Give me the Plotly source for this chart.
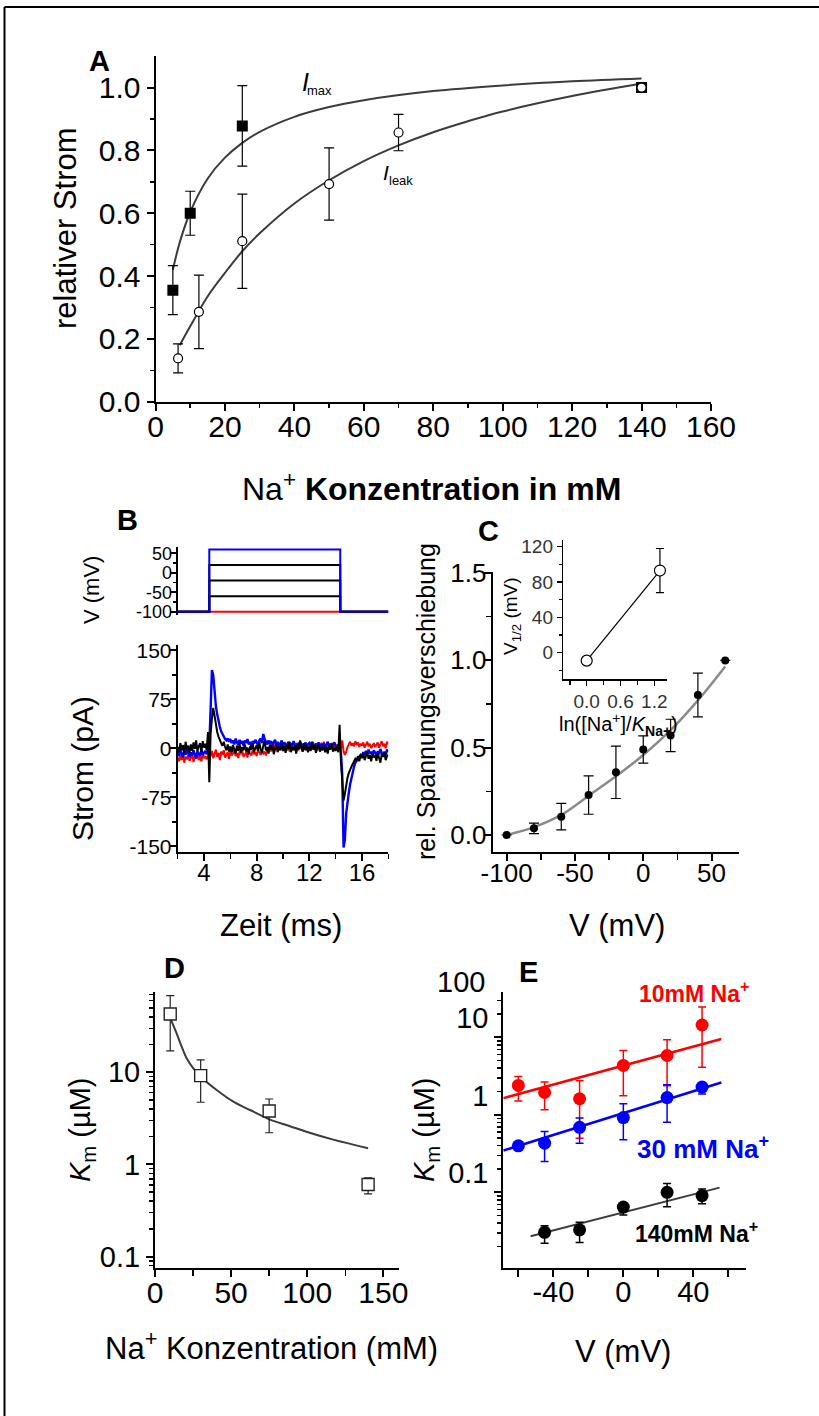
import plotly.graph_objects as go

FONT = "Arial, Liberation Sans, sans-serif"
W, H = 819, 1416


def px(x):
    return x / W


def py(y):
    return 1 - y / H


# ---------------- Panel A: relativer Strom vs Na+ ----------------
a_conc_imax = [5, 10, 25, 140]
a_imax = [0.355, 0.60, 0.878, 1.0]
a_imax_err = [0.078, 0.07, 0.128, 0.0]
a_conc_ileak = [6.5, 12.5, 25, 50, 70, 140]
a_ileak = [0.138, 0.286, 0.511, 0.693, 0.857, 1.0]
a_ileak_err = [0.046, 0.117, 0.15, 0.115, 0.058, 0.0]
a_fit_imax_x = [5, 7, 10, 15, 20, 25, 30, 40, 50, 60, 80, 100, 120, 140]
a_fit_imax_y = [0.42, 0.508, 0.604, 0.71, 0.777, 0.824, 0.859, 0.907, 0.938, 0.96, 0.989, 1.007, 1.02, 1.029]
a_fit_ileak_x = [7, 10, 15, 20, 25, 30, 40, 50, 60, 70, 80, 90, 100, 120, 140]
a_fit_ileak_y = [0.18, 0.24, 0.335, 0.41, 0.479, 0.536, 0.631, 0.705, 0.766, 0.816, 0.858, 0.893, 0.924, 0.973, 1.013]
a_xticks = [0, 20, 40, 60, 80, 100, 120, 140, 160]

# ---------------- Panel B: Spannungsprotokoll + Stromspuren ----------------
b_step_on = 4.4
b_step_off = 14.35
b_levels = [-100, -60, -20, 20, 60]
b_level_colors = ["red", "black", "black", "black", "blue"]
b_t0, b_dt = 2.0, 0.1
b_red = [
    -14, -20, -11, -18, -9, -22, -13, -17, -10, -19,
    -15, -8, -21, -12, -16, -10, -18, -13, -20, -9,
    -15, -12, -17, -11, -6, -12, -4, -15, -8, -2,
    -13, -7, -18, -5, -10, -3, -14, -9, -6, -16,
    -4, -11, -8, -2, -12, -7, -15, -5, -9, -3,
    -13, -10, -6, -14, -4, -8, -11, -3, -9, -6,
    -12, -2, -7, -10, -4, -8, -5, -11, -3, -6,
    2, -5, 4, -3, 6, -1, -6, 3, -2, 5,
    -4, 1, 7, -3, 2, -5, 4, 0, -2, 6,
    1, -4, 3, 8, -1, -5, 2, 6, -3, 4,
    0, -2, 5, 9, -1, 3, -4, 7, 2, -3,
    4, 10, 1, -2, 6, 3, -1, 8, 2, 5,
    -1, 4, 2, 6, 0, 12, -4, -10, -6, 2,
    6, 10, 4, 8, 3, 11, 5, 9, 2, 7,
    4, 9, 1, 6, 10, 3, 7, 0, 5, 8,
    2, 6, 9, 1, 5, 11, 3, 7, 0, 10,
    6,
]
b_blue = [
    -5, -12, -2, -9, -14, -4, -10, -1, -8, -13,
    -6, -11, -3, -9, -15, -5, -8, -12, -2, -10,
    -7, -4, -9, -3, 5, 60, 120, 112, 85, 65,
    52, 40, 33, 26, 21, 18, 14, 12, 15, 10,
    14, 8, 12, 6, 15, 9, 5, 13, 7, 11,
    4, 12, 8, 14, 6, 10, 3, 11, 7, 13,
    9, 5, 12, 15, 8, 22, 14, 10, 6, 12,
    7, 11, 3, 9, 13, 5, 10, 2, 8, 12,
    4, 9, 6, 1, 10, 5, 8, 3, 11, 6,
    2, 8, 5, 10, 3, 7, 1, 9, 4, 6,
    8, 3, 10, 5, 1, 7, 4, 9, 2, 6,
    3, 8, 1, 6, 10, 4, 7, 2, 5, 9,
    4, 1, 6, 3, -5, -40, -152, -140, -100, -80,
    -68, -55, -45, -35, -28, -22, -18, -15, -13, -10,
    -12, -6, -10, -4, -9, -2, -8, -5, -11, -3,
    -7, -12, -4, -9, -1, -8, -13, -5, -10, -2,
    -6,
]
b_black = [
    2, -6, 8, -3, 5, -8, 10, -2, 4, -7,
    6, -4, 9, -1, 12, -5, 3, 8, -6, 11,
    1, 7, -3, 25, -52, 22, 45, 62, 50, 35,
    25, 18, 12, 8, 4, 10, 2, -3, 6, -5,
    3, -6, 5, -2, -8, 4, -4, 7, -7, 2,
    -3, 6, -5, 1, -9, 3, -2, 8, -6, 0,
    5, -4, 9, -1, -7, 4, 12, -3, 2, -8,
    6, -2, 3, -9, 1, 7, -5, 2, -3, 8,
    -4, 3, -7, 5, -1, 10, -6, 2, -3, 4,
    -8, 6, -2, 12, 1, -5, 8, -3, 4, -6,
    3, -4, 9, -2, 5, -7, 2, 6, -5, 1,
    -3, 5, -6, 2, -8, 4, -2, 7, -5, 1,
    -4, 3, -6, 36, -20, -60, -80, -70, -55, -45,
    -38, -32, -28, -24, -20, -16, -18, -12, -20, -10,
    -15, -8, -18, -12, -6, -16, -10, -20, -9, -14,
    -11, -19, -7, -15, -22, -9, -13, -6, -18, -12,
    -10,
]
b_xticks = [4, 8, 12, 16]

# ---------------- Panel C ----------------
c_v = [-100, -80, -60, -40, -20, 0, 20, 40, 60]
c_shift = [0.0, 0.038, 0.105, 0.229, 0.359, 0.49, 0.57, 0.802, 1.0]
c_err = [0, 0.03, 0.076, 0.11, 0.15, 0.078, 0.093, 0.125, 0]
c_fit_v = [-100, -80, -60, -40, -20, 0, 20, 40, 60]
c_fit = [0.0, 0.045, 0.115, 0.225, 0.336, 0.458, 0.60, 0.771, 0.965]
c_in_x = [0.0, 1.3]
c_in_y = [-9, 93]
c_in_err = [0, 25]
c_xticks = [-100, -50, 0, 50]
c_xticktext = ["-100", "-50", "0", "50"]

# ---------------- Panel D ----------------
d_conc = [10, 30, 75, 140]
d_km = [42.9, 9.2, 3.8, 0.607]
d_err_plus = [24.9, 4.4, 1.33, 0.11]
d_err_minus = [25.8, 4.47, 1.59, 0.127]
d_fit_x = [10.1, 14.2, 17.5, 20.8, 25.2, 30, 40.5, 51.5, 62.4, 75.1, 88.7, 100, 117.1, 140]
d_fit_y = [38.5, 26.5, 19.0, 14.2, 11.0, 8.96, 6.43, 4.8, 3.9, 3.09, 2.6, 2.25, 1.86, 1.5]
d_xticks = [0, 50, 100, 150]

# ---------------- Panel E ----------------
e_v = [-60, -45, -25, 0, 25, 45]
e_10 = [2.39, 1.94, 1.61, 4.33, 5.82, 14.4]
e_10_plus = [0.73, 0.7, 1.14, 2.43, 3.47, 10.1]
e_10_minus = [0.88, 0.78, 1.11, 2.57, 3.45, 10.3]
e_30 = [0.398, 0.43, 0.69, 0.92, 1.67, 2.28]
e_30_plus = [0.03, 0.18, 0.22, 0.47, 0.77, 0.22]
e_30_minus = [0.03, 0.18, 0.26, 0.445, 0.87, 0.42]
e_140_v = [-45, -25, 0, 25, 45]
e_140 = [0.0305, 0.0328, 0.0645, 0.1, 0.0905]
e_140_plus = [0.0065, 0.0082, 0.0085, 0.03, 0.0195]
e_140_minus = [0.0085, 0.0102, 0.0135, 0.035, 0.0195]
e_fit10_v = [-68.6, 56]
e_fit10 = [1.64, 9.48]
e_fit30_v = [-68.6, 56]
e_fit30 = [0.346, 2.61]
e_fit140_v = [-53, 55]
e_fit140 = [0.0272, 0.115]
e_xticks = [-40, 0, 40]
e_xticktext = ["-40", "0", "40"]

fig = go.Figure()


def sc(x, y, xa, ya, **kw):
    fig.add_trace(go.Scatter(x=x, y=y, xaxis=xa, yaxis=ya, showlegend=False,
                             hoverinfo="skip", **kw))


def ebar(arr, arrm=None, color="black", width=5, thick=1.2):
    d = dict(type="data", array=arr, color=color, width=width, thickness=thick, visible=True)
    if arrm is not None:
        d["symmetric"] = False
        d["arrayminus"] = arrm
    return d


# Panel A
sc(a_fit_imax_x, a_fit_imax_y, "x", "y", mode="lines",
   line=dict(color="#3c3c3c", width=2, shape="spline"))
sc(a_fit_ileak_x, a_fit_ileak_y, "x", "y", mode="lines",
   line=dict(color="#3c3c3c", width=2, shape="spline"))
sc(a_conc_imax, a_imax, "x", "y", mode="markers",
   marker=dict(symbol="square", size=11, color="black"),
   error_y=ebar(a_imax_err))
sc(a_conc_ileak, a_ileak, "x", "y", mode="markers",
   marker=dict(symbol="circle", size=9, color="white", line=dict(color="black", width=1.2)),
   error_y=ebar(a_ileak_err))

# Panel B voltage protocol
for lvl, col in zip(b_levels, b_level_colors):
    sc([b_t0, b_step_on, b_step_on, b_step_off, b_step_off, 18],
       [-100, -100, lvl, lvl, -100, -100], "x2", "y2", mode="lines",
       line=dict(color=col, width=2))

# Panel B current traces
b_time = [round(b_t0 + i * b_dt, 2) for i in range(len(b_red))]
sc(b_time, b_red, "x3", "y3", mode="lines", line=dict(color="red", width=2))
sc(b_time, b_blue, "x3", "y3", mode="lines", line=dict(color="blue", width=2.4))
sc(b_time, b_black, "x3", "y3", mode="lines", line=dict(color="black", width=2))

# Panel C
sc(c_fit_v, c_fit, "x4", "y4", mode="lines",
   line=dict(color="#8a8a8a", width=2.5, shape="spline"))
sc(c_v, c_shift, "x4", "y4", mode="markers",
   marker=dict(symbol="circle", size=8, color="black"),
   error_y=ebar(c_err, width=5))
# Inset
sc(c_in_x, c_in_y, "x5", "y5", mode="lines", line=dict(color="black", width=1.2))
sc(c_in_x, c_in_y, "x5", "y5", mode="markers",
   marker=dict(symbol="circle", size=11, color="white", line=dict(color="black", width=1.2)),
   error_y=ebar(c_in_err, width=4))

# Panel D
sc(d_fit_x, d_fit_y, "x6", "y6", mode="lines",
   line=dict(color="#3c3c3c", width=2, shape="spline"))
sc(d_conc, d_km, "x6", "y6", mode="markers",
   marker=dict(symbol="square", size=12, color="white", line=dict(color="#222", width=1.4)),
   error_y=ebar(d_err_plus, d_err_minus, color="#222", width=4))

# Panel E
sc(e_fit10_v, e_fit10, "x7", "y7", mode="lines", line=dict(color="red", width=2.5))
sc(e_fit30_v, e_fit30, "x7", "y7", mode="lines", line=dict(color="blue", width=2.5))
sc(e_fit140_v, e_fit140, "x7", "y7", mode="lines", line=dict(color="#3c3c3c", width=2))
sc(e_v, e_10, "x7", "y7", mode="markers", marker=dict(size=13, color="red"),
   error_y=ebar(e_10_plus, e_10_minus, color="red", width=4, thick=1.5))
sc(e_v, e_30, "x7", "y7", mode="markers", marker=dict(size=13, color="blue"),
   error_y=ebar(e_30_plus, e_30_minus, color="blue", width=4, thick=1.5))
sc(e_140_v, e_140, "x7", "y7", mode="markers", marker=dict(size=13, color="black"),
   error_y=ebar(e_140_plus, e_140_minus, color="black", width=4, thick=1.5))

# empty traces so that the label-only x axes exist
for xa, ya in [("x8", "y"), ("x9", "y3"), ("x10", "y4"), ("x11", "y6"), ("x12", "y7")]:
    sc([], [], xa, ya, mode="markers")


def axis(size, **kw):
    base = dict(showline=True, linecolor="black", linewidth=2, ticks="outside", ticklen=7,
                tickwidth=2, tickcolor="black", showgrid=False, zeroline=False,
                automargin=False,
                tickfont=dict(family=FONT, size=size, color="black"), fixedrange=True)
    base.update(kw)
    return base


def label_axis(size, over, anchor, rng, vals, text=None, standoff=4):
    d = dict(overlaying=over, anchor=anchor, side="bottom", range=rng,
             showline=False, ticks="", showgrid=False, zeroline=False, automargin=False,
             fixedrange=True, tickvals=vals, ticklabelstandoff=standoff,
             tickfont=dict(family=FONT, size=size, color="black"))
    if text is not None:
        d["ticktext"] = text
    return d


def minor(vals, ln=4, w=1.5):
    return dict(tickvals=vals, ticks="outside", ticklen=ln, tickwidth=w,
                tickcolor="black", showgrid=False)


log_minor_d = [0.08, 0.09] + [i / 10 for i in range(2, 10)] + list(range(2, 10)) + [20, 30, 40, 50, 60, 70]
log_minor_e = [i / 100 for i in range(2, 10)] + [i / 10 for i in range(2, 10)] + list(range(2, 10)) + [20, 30]

a_xr = [0, 160]
b_xr = [2, 18]
c_xr = [-110.2, 70.3]
d_xr = [0, 160.3]
e_xr = [-68.6, 70.1]

fig.update_layout(
    width=W, height=H, margin=dict(l=0, r=0, t=0, b=0, pad=0, autoexpand=False),
    paper_bgcolor="white", plot_bgcolor="rgba(0,0,0,0)", showlegend=False,
    font=dict(family=FONT, color="black"),
    # A
    xaxis=axis(30, domain=[px(155.5), px(711)], range=a_xr, anchor="y",
               tickvals=a_xticks, showticklabels=False,
               minor=minor(list(range(10, 160, 20)))),
    xaxis8=label_axis(30, "x", "y", a_xr, a_xticks, standoff=4),
    yaxis=axis(30, domain=[py(401.7), py(56.2)], range=[0, 1.1], anchor="x",
               tickvals=[0, 0.2, 0.4, 0.6, 0.8, 1.0], tickformat=".1f",
               minor=minor([0.1, 0.3, 0.5, 0.7, 0.9])),
    # B top
    xaxis2=dict(domain=[px(177.7), px(388.3)], range=b_xr, anchor="y2", visible=False,
                fixedrange=True, automargin=False),
    yaxis2=axis(18, domain=[py(615), py(546.7)], range=[-108.5, 67.1], anchor="x2",
                tickvals=[-100, -50, 0, 50], ticktext=["-100", "-50", "0", "50"],
                ticklen=6, ticklabelstandoff=-6, minor=minor([-75, -25, 25], 3)),
    # B bottom
    xaxis3=axis(24, domain=[px(177.7), px(388.3)], range=b_xr, anchor="y3",
                tickvals=b_xticks, showticklabels=False,
                minor=minor([2, 6, 10, 14, 18], 5)),
    xaxis9=label_axis(24, "x3", "y3", b_xr, b_xticks, standoff=4),
    yaxis3=axis(21, domain=[py(852), py(645)], range=[-158.8, 158.2], anchor="x3",
                tickvals=[-150, -75, 0, 75, 150], ticktext=["-150", "-75", "0", "75", "150"],
                ticklen=6, ticklabelstandoff=-6, minor=minor([-112.5, -37.5, 37.5, 112.5], 4)),
    # C
    xaxis4=axis(26, domain=[px(492.7), px(739.3)], range=c_xr, anchor="y4",
                tickvals=c_xticks, showticklabels=False, minor=minor([-75, -25, 25], 6)),
    xaxis10=label_axis(26, "x4", "y4", c_xr, c_xticks, c_xticktext, standoff=3),
    yaxis4=axis(26, domain=[py(851.7), py(571.5)], range=[-0.0956, 1.509], anchor="x4",
                tickvals=[0, 0.5, 1.0, 1.5], tickformat=".1f", ticklabelstandoff=-8,
                minor=minor([0.25, 0.75, 1.25], 5)),
    # Inset
    xaxis5=axis(19, domain=[px(563.3), px(666.7)], range=[-0.415, 1.42], anchor="y5",
                linewidth=1.5, ticklen=5, tickwidth=1.5, tickvals=[0, 0.6, 1.2], tickformat=".1f",
                tickfont=dict(family=FONT, size=19, color="#333"),
                minor=minor([-0.3, 0.3, 0.9], 4)),
    yaxis5=axis(19, domain=[py(679), py(540)], range=[-29.8, 127.6], anchor="x5",
                linewidth=1.5, ticklen=5, tickwidth=1.5, tickvals=[0, 40, 80, 120],
                tickfont=dict(family=FONT, size=19, color="#333"),
                minor=minor([-20, 20, 60, 100], 3)),
    # D
    xaxis6=axis(30, domain=[px(155), px(399)], range=d_xr, anchor="y6",
                tickvals=d_xticks, showticklabels=False, minor=minor([25, 75, 125], 6)),
    xaxis11=label_axis(30, "x6", "y6", d_xr, d_xticks, standoff=4),
    yaxis6=axis(29, domain=[py(1268.3), py(991.7)], type="log", range=[-1.126, 1.874],
                anchor="x6", tickvals=[0.1, 1, 10], ticktext=["0.1", "1", "10"],
                minor=minor(log_minor_d, 4)),
    # E
    xaxis7=axis(29, domain=[px(503.3), px(746)], range=e_xr, anchor="y7",
                tickvals=e_xticks, showticklabels=False,
                minor=minor([-60, -20, 20, 60], 7, 2)),
    xaxis12=label_axis(29, "x7", "y7", e_xr, e_xticks, e_xticktext, standoff=4),
    yaxis7=axis(29, domain=[py(1268.3), py(991.7)], type="log", range=[-1.98, 1.588],
                anchor="x7", tickvals=[0.1, 1, 10], ticktext=["0.1", "1", "10"],
                ticklabelshift=-19, minor=minor(log_minor_e, 4)),
)

anns = []


def ann(text, x, y, size, angle=0, color="black", xanchor="center", yanchor="middle"):
    anns.append(dict(text=text, x=px(x), y=py(y), xref="paper", yref="paper",
                     showarrow=False, textangle=angle, xanchor=xanchor, yanchor=yanchor,
                     font=dict(family=FONT, size=size, color=color)))


# A
ann("<b>A</b>", 99, 61, 29)
ann("relativer Strom", 65, 228, 31, angle=-90)
ann("Na<sup>+</sup> <b>Konzentration in mM</b>", 431, 487, 32)
ann("<i>I</i>", 305, 82, 25)
ann("max", 319, 90, 13)
ann("<i>I</i>", 386, 172, 21)
ann("leak", 401, 180, 13)
# B
ann("<b>B</b>", 127, 520, 29)
ann("V (mV)", 91, 590, 22, angle=-90)
ann("Strom (pA)", 82, 769, 30, angle=-90)
ann("Zeit (ms)", 281, 925, 31)
# C
ann("<b>C</b>", 488, 531, 29)
ann("rel. Spannungsverschiebung", 426, 702, 25, angle=-90)
ann("V (mV)", 617, 925, 31)
ann("V<sub>1/2</sub> (mV)", 512, 616, 19, angle=-90)
ann("ln([Na<sup>+</sup>]/<i>K</i><sub><b>Na+</b></sub>)", 618, 724, 20)
# D
ann("<b>D</b>", 174, 968, 29)
ann("<i>K</i><sub>m</sub> (µM)", 82, 1130, 29, angle=-90)
ann("Na<sup>+</sup> Konzentration (mM)", 271, 1346, 31)
# E
ann("<b>E</b>", 528, 972, 29)
ann("<i>K</i><sub>m</sub> (µM)", 426, 1130, 29, angle=-90)
ann("V (mV)", 623, 1351, 31)
ann("100", 487, 982, 29, xanchor="right")
ann("<b>10mM Na<sup>+</sup></b>", 694, 992, 23, color="red")
ann("<b>30 mM Na<sup>+</sup></b>", 703, 1147, 26, color="blue")
ann("<b>140mM Na<sup>+</sup></b>", 696, 1232, 23, color="black")

fig.update_layout(
    annotations=anns,
    shapes=[
        dict(type="line", xref="paper", yref="paper", x0=px(4.5), x1=1, y0=py(7), y1=py(7),
             line=dict(color="black", width=2)),
        dict(type="line", xref="paper", yref="paper", x0=px(4.5), x1=px(4.5), y0=py(7), y1=0,
             line=dict(color="black", width=2)),
    ],
)

fig.write_html(
    "out.html",
    config={"displayModeBar": False, "staticPlot": True},
    post_script="document.body.style.margin='0px';document.body.style.overflow='hidden';",
)
